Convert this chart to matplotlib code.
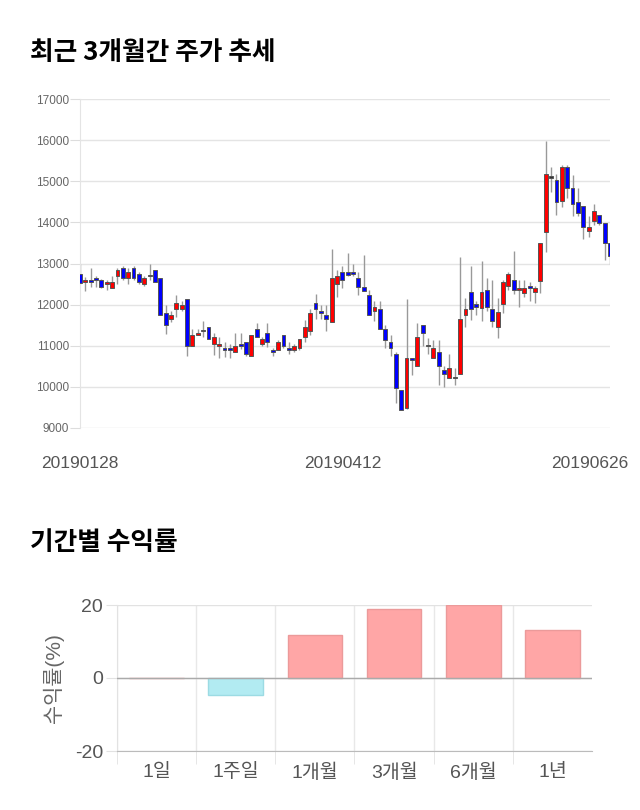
import numpy as np
import matplotlib
matplotlib.use('Agg')
import matplotlib.pyplot as plt
from matplotlib.transforms import ScaledTranslation

plt.rcParams['font.family'] = ['Liberation Sans', 'Noto Sans CJK KR', 'DejaVu Sans']
plt.rcParams['axes.unicode_minus'] = False

# daily candles, 2019-01-28 .. 2019-06-26
opens = [12745, 12545, 12600, 12650, 12600, 12495, 12400, 12690, 12900, 12640,
         12900, 12745, 12495, 12700, 12850, 12650, 11800, 11645, 11895, 11895,
         12145, 10995, 11255, 11350, 11450, 11045, 10985, 10940, 10940, 10840,
         11050, 11100, 10750, 11400, 11045, 11305, 10900, 10900, 11255, 10955,
         10905, 10955, 11205, 11350, 12050, 11845, 11750, 11585, 12495, 12795,
         12795, 12790, 12640, 12435, 12240, 11845, 11895, 11400, 11100, 10800,
         9915, 9495, 10695, 10500, 11500, 10990, 10695, 10840, 10405, 10210,
         10210, 10305, 11740, 12300, 12010, 11910, 12350, 11895, 11455, 12010,
         12455, 12590, 12350, 12290, 12455, 12300, 12580, 13775, 15090, 15030,
         14530, 15340, 14845, 14490, 14390, 13790, 14035, 14190, 13995, 13490]
highs = [12990, 12680, 12890, 12700, 12620, 12590, 12690, 12885, 12950, 12900,
         12950, 12790, 12700, 12990, 12850, 12650, 11990, 11855, 12240, 12095,
         12145, 11400, 11400, 11595, 11450, 11305, 11220, 11085, 11050, 11305,
         11305, 11100, 11255, 11550, 11205, 11545, 10940, 11150, 11255, 11100,
         11050, 11155, 11620, 11900, 12250, 11990, 11990, 13345, 12845, 12950,
         13250, 13000, 12790, 13200, 12350, 12100, 12100, 11500, 11250, 10850,
         9915, 12135, 10695, 11550, 11500, 11200, 11150, 11150, 10500, 10800,
         10460, 13150, 12150, 12950, 12100, 13050, 12650, 12600, 12150, 12600,
         12800, 13300, 12600, 12600, 12550, 12450, 13490, 15980, 15340, 15170,
         15400, 15400, 15150, 14830, 14390, 14150, 14450, 14190, 13995, 13490]
lows = [12500, 12340, 12430, 12440, 12400, 12350, 12400, 12495, 12590, 12495,
        12600, 12495, 12450, 12590, 12545, 11740, 11290, 11580, 11705, 11855,
        10750, 10995, 11255, 11220, 11155, 10770, 10695, 10735, 10700, 10840,
        10930, 10760, 10750, 11205, 11000, 10960, 10750, 10900, 10950, 10800,
        10850, 10900, 11100, 11250, 11640, 11640, 11350, 11585, 12195, 12400,
        12690, 12700, 12240, 12340, 11750, 11600, 11400, 10950, 10750, 9600,
        9440, 9460, 10300, 10500, 11000, 10800, 10695, 10050, 10000, 10210,
        10050, 10305, 11450, 11620, 11750, 11590, 11850, 11450, 11200, 11800,
        12350, 12250, 11950, 12180, 12100, 12050, 12275, 13290, 14730, 14170,
        14380, 14600, 14150, 14150, 13590, 13650, 13930, 13930, 13085, 12995]
closes = [12534, 12600, 12545, 12590, 12440, 12550, 12545, 12850, 12640, 12795,
          12640, 12545, 12650, 12700, 12545, 11740, 11500, 11750, 12050, 11990,
          10995, 11255, 11320, 11350, 11155, 11205, 11045, 10895, 10895, 10995,
          11000, 10800, 11255, 11205, 11155, 11100, 10850, 11100, 11000, 10905,
          11000, 11155, 11450, 11795, 11895, 11795, 11645, 12640, 12700, 12600,
          12715, 12740, 12435, 12340, 11750, 11945, 11400, 11150, 10955, 9970,
          9440, 10700, 10645, 11205, 11305, 10990, 10945, 10500, 10305, 10460,
          10210, 11650, 11895, 11895, 11950, 12300, 11950, 11600, 11815, 12545,
          12740, 12350, 12400, 12405, 12400, 12400, 13490, 15185, 15090, 14490,
          15340, 14845, 14440, 14235, 13890, 13890, 14285, 13995, 13490, 13190]
date_labels = ['20190128', '20190412', '20190626']
date_idx = [0, 49, 99]

periods = ['1일', '1주일', '1개월', '3개월', '6개월', '1년']
returns = [0, -4.7, 11.7, 18.8, 19.9, 13.1]

fig = plt.figure(figsize=(6.4, 8.1), dpi=100)

fig.text(30/640, 1 - 52/810, '최근 3개월간 주가 추세', fontsize=18.5, fontweight='bold',
         va='center', ha='left', family=['Noto Sans CJK KR', 'DejaVu Sans'])
fig.text(30/640, 1 - 543/810, '기간별 수익률', fontsize=18.5, fontweight='bold',
         va='center', ha='left', family=['Noto Sans CJK KR', 'DejaVu Sans'])

# candle chart
ax1 = fig.add_axes([80/640, 1 - 428/810, 530/640, 329/810])
x = np.arange(len(opens))
o = np.array(opens)
c = np.array(closes)
cols = []
for a, b in zip(o, c):
    if b > a:
        cols.append('#ff0000')
    elif b < a:
        cols.append('#0000ff')
    else:
        cols.append('#333333')
ax1.vlines(x, lows, highs, color='#999999', lw=1, zorder=2)
h = np.abs(c - o)
h = np.where(h < 30, 30, h)
ax1.bar(x, h, bottom=np.minimum(o, c), width=0.72, color=cols,
        edgecolor='#555555', linewidth=0.7, zorder=3)

ax1.set_xlim(0, 99)
ax1.set_ylim(9000, 17000)
ax1.set_yticks(range(9000, 17001, 1000))
ax1.grid(axis='y', color='#e4e4e4', lw=1, zorder=0)
for s in ['top', 'right', 'bottom']:
    ax1.spines[s].set_visible(False)
ax1.spines['left'].set_color('#e4e4e4')
ax1.tick_params(axis='y', length=7, color='#dddddd', labelsize=8.5,
                labelcolor='#666666', pad=1)
ax1.set_xticks(date_idx)
ax1.set_xticklabels(date_labels)
ax1.tick_params(axis='x', length=0, pad=20, labelsize=12.5, labelcolor='#555555')
last = ax1.get_xticklabels()[-1]
last.set_transform(last.get_transform() + ScaledTranslation(-20/100, 0, fig.dpi_scale_trans))

# returns chart
ax2 = fig.add_axes([117/640, 1 - 751/810, 475/640, 146/810])
xb = np.arange(len(periods))
bcol = ['#ffa6a6' if v >= 0 else '#b2ebf2' for v in returns]
ecol = ['#eb9a9a' if v >= 0 else '#9cdbe3' for v in returns]
ax2.bar(xb, returns, width=0.69, color=bcol, edgecolor=ecol, linewidth=1, zorder=2)
ax2.axhline(0, color='#aaaaaa', lw=1, zorder=3)
ax2.set_xlim(-0.5, 5.5)
ax2.set_ylim(-20, 20)
ax2.set_yticks([-20, 0, 20])
ax2.set_xticks(xb)
ax2.set_xticklabels(periods)
ax2.set_xticks(np.arange(-0.5, 5, 1), minor=True)
ax2.grid(axis='y', color='#e2e2e2', lw=1, zorder=0)
ax2.grid(axis='x', which='minor', color='#e8e8e8', lw=1, zorder=0)
for s in ['top', 'right']:
    ax2.spines[s].set_visible(False)
ax2.spines['left'].set_color('#e2e2e2')
ax2.spines['bottom'].set_color('#bbbbbb')
ax2.tick_params(axis='x', which='major', length=0, pad=9, labelsize=14, labelcolor='#555555')
ax2.tick_params(axis='x', which='minor', length=9, color='#e2e2e2')
ax2.tick_params(axis='y', length=8, color='#e2e2e2', labelsize=14, labelcolor='#555555', pad=2)
ax2.set_ylabel('수익률(%)', fontsize=15, color='#666666', labelpad=8)

plt.savefig('out.png', dpi=100)
